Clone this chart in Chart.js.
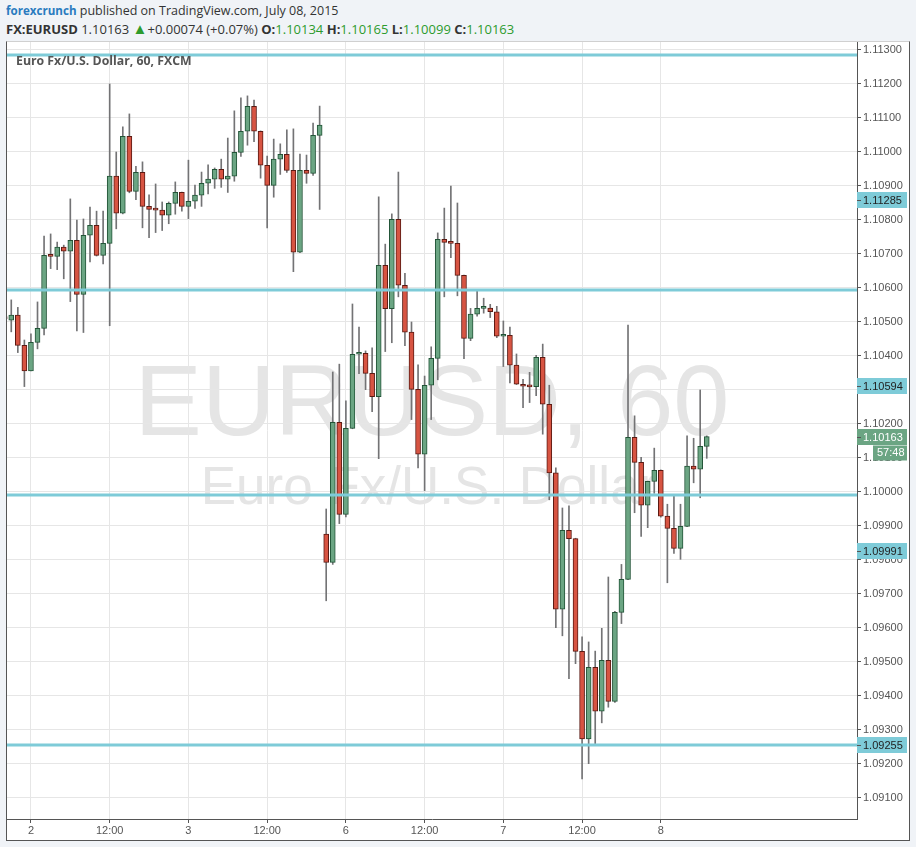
<!DOCTYPE html>
<html>
<head>
<meta charset="utf-8">
<script src="https://cdn.jsdelivr.net/npm/chart.js@4.4.1/dist/chart.umd.min.js"></script>
<style>
  html, body { margin: 0; padding: 0; }
  body { width: 916px; height: 847px; background: #f0f3f7; position: relative; overflow: hidden;
         font-family: "Open Sans", "Noto Sans", sans-serif; color: #333; }
  .line { position: absolute; left: 6px; font-size: 13px; white-space: nowrap; }
  #head1 { top: 2px; font-size: 12.5px; }
  #head1 b { color: #2a7bbf; font-size: 11.6px; }
  #head2 { top: 20px; }
  .g { color: #2d9b2d; }
  .tri { font-size: 15px; line-height: 13px; }
  #box { position: absolute; left: 6px; top: 41px; width: 902px; height: 798px; background: #fff;
         border: 1px solid #555; border-top-color: #d0d0d0; }
  canvas { display: block; }
</style>
</head>
<body>
<div class="line" id="head1"><b>forexcrunch</b> published on TradingView.com, July 08, 2015</div>
<div class="line" id="head2"><b>FX:EURUSD</b> 1.10163 <span class="g tri">&#9650;</span>+0.00074 (+0.07%) <b>O:</b><span class="g">1.10134</span> <b>H:</b><span class="g">1.10165</span> <b>L:</b><span class="g">1.10099</span> <b>C:</b><span class="g">1.10163</span></div>
<div id="box"><canvas id="chart" width="902" height="798"></canvas></div>
<script>
// hourly bars, FXCM session (weekend skipped)
const sessions = [
  ['Jul 1', 20, 23], ['Jul 2', 0, 23], ['Jul 3', 0, 20],
  ['Jul 5', 21, 23], ['Jul 6', 0, 23], ['Jul 7', 0, 23], ['Jul 8', 0, 7]
];
const times = [];
sessions.forEach(([d, a, b]) => {
  for (let h = a; h <= b; h++) times.push(d + ' ' + String(h).padStart(2, '0') + ':00');
});

const opens = [
  1.10512, 1.10505, 1.10520, 1.10431, 1.10356, 1.10440, 1.10481, 1.10696, 1.10693, 1.10720,
  1.10708, 1.10740, 1.10581, 1.10755, 1.10784, 1.10696, 1.10731, 1.10929, 1.10820, 1.11046,
  1.10884, 1.10940, 1.10840, 1.10831, 1.10829, 1.10814, 1.10849, 1.10881, 1.10840, 1.10855,
  1.10873, 1.10908, 1.10920, 1.10949, 1.10920, 1.10929, 1.10999, 1.11061, 1.11134, 1.11061,
  1.10961, 1.10902, 1.10979, 1.10993, 1.10946, 1.10705, 1.10946, 1.10937, 1.11049, 1.09876,
  1.09793, 1.10205, 1.09934, 1.10187, 1.10405, 1.10408, 1.10349, 1.10280, 1.10667, 1.10539,
  1.10802, 1.10608, 1.10470, 1.10302, 1.10111, 1.10314, 1.10393, 1.10743, 1.10734, 1.10731,
  1.10637, 1.10452, 1.10523, 1.10540, 1.10541, 1.10530, 1.10458, 1.10461, 1.10373, 1.10317,
  1.10311, 1.10310, 1.10396, 1.10258, 1.10056, 1.09655, 1.09887, 1.09863, 1.09531, 1.09274,
  1.09484, 1.09355, 1.09505, 1.09384, 1.09646, 1.09743, 1.10161, 1.10087, 1.09961, 1.10031,
  1.10064, 1.09929, 1.09893, 1.09834, 1.09899, 1.10076, 1.10067, 1.10134
];
const highs = [
  1.10520, 1.10565, 1.10543, 1.10447, 1.10465, 1.10559, 1.10753, 1.10759, 1.10735, 1.10726,
  1.10862, 1.10800, 1.10803, 1.10838, 1.10826, 1.10826, 1.11200, 1.11000, 1.11074, 1.11112,
  1.10958, 1.10971, 1.10874, 1.10906, 1.10853, 1.10853, 1.10912, 1.10882, 1.10976, 1.10903,
  1.10941, 1.10962, 1.10953, 1.10979, 1.11041, 1.11121, 1.11159, 1.11165, 1.11153, 1.11062,
  1.10988, 1.11038, 1.11024, 1.11065, 1.11068, 1.10994, 1.10991, 1.11085, 1.11135, 1.09950,
  1.10353, 1.10376, 1.10268, 1.10553, 1.10485, 1.10415, 1.10424, 1.10868, 1.10729, 1.10818,
  1.10941, 1.10643, 1.10500, 1.10374, 1.10341, 1.10427, 1.10762, 1.10835, 1.10900, 1.10850,
  1.10638, 1.10540, 1.10593, 1.10570, 1.10552, 1.10546, 1.10503, 1.10485, 1.10406, 1.10331,
  1.10352, 1.10402, 1.10435, 1.10314, 1.10071, 1.09953, 1.09959, 1.09864, 1.09574, 1.09559,
  1.09532, 1.09599, 1.09750, 1.09649, 1.09787, 1.10491, 1.10224, 1.10102, 1.10032, 1.10129,
  1.10065, 1.09964, 1.09990, 1.09964, 1.10165, 1.10158, 1.10300, 1.10165
];
const lows = [
  1.10500, 1.10471, 1.10410, 1.10310, 1.10356, 1.10421, 1.10462, 1.10657, 1.10654, 1.10627,
  1.10560, 1.10474, 1.10469, 1.10677, 1.10694, 1.10671, 1.10489, 1.10774, 1.10818, 1.10880,
  1.10860, 1.10777, 1.10748, 1.10763, 1.10769, 1.10789, 1.10817, 1.10826, 1.10804, 1.10834,
  1.10840, 1.10877, 1.10893, 1.10896, 1.10881, 1.10914, 1.10987, 1.11020, 1.11030, 1.10923,
  1.10777, 1.10867, 1.10934, 1.10940, 1.10648, 1.10704, 1.10908, 1.10931, 1.10831, 1.09680,
  1.09787, 1.09907, 1.09927, 1.10186, 1.10348, 1.10301, 1.10236, 1.10098, 1.10413, 1.10439,
  1.10574, 1.10430, 1.10213, 1.10071, 1.10004, 1.10213, 1.10330, 1.10574, 1.10689, 1.10577,
  1.10392, 1.10445, 1.10517, 1.10526, 1.10513, 1.10454, 1.10369, 1.10321, 1.10316, 1.10248,
  1.10263, 1.10283, 1.10170, 1.09977, 1.09601, 1.09577, 1.09451, 1.09495, 1.09156, 1.09201,
  1.09260, 1.09321, 1.09367, 1.09381, 1.09613, 1.09742, 1.09939, 1.09869, 1.09895, 1.09996,
  1.09926, 1.09733, 1.09819, 1.09802, 1.09898, 1.10027, 1.09983, 1.10099
];
const closes = [
  1.10510, 1.10520, 1.10431, 1.10356, 1.10440, 1.10481, 1.10696, 1.10693, 1.10720, 1.10708,
  1.10740, 1.10581, 1.10755, 1.10784, 1.10696, 1.10731, 1.10929, 1.10820, 1.11046, 1.10884,
  1.10940, 1.10840, 1.10831, 1.10829, 1.10814, 1.10849, 1.10881, 1.10840, 1.10855, 1.10873,
  1.10908, 1.10920, 1.10949, 1.10920, 1.10929, 1.10999, 1.11061, 1.11134, 1.11061, 1.10961,
  1.10902, 1.10979, 1.10993, 1.10946, 1.10705, 1.10946, 1.10937, 1.11049, 1.11079, 1.09793,
  1.10205, 1.09934, 1.10187, 1.10405, 1.10408, 1.10349, 1.10280, 1.10667, 1.10539, 1.10802,
  1.10608, 1.10470, 1.10302, 1.10111, 1.10314, 1.10393, 1.10743, 1.10734, 1.10731, 1.10637,
  1.10452, 1.10523, 1.10540, 1.10541, 1.10530, 1.10458, 1.10460, 1.10373, 1.10317, 1.10311,
  1.10309, 1.10396, 1.10258, 1.10056, 1.09655, 1.09887, 1.09863, 1.09531, 1.09274, 1.09484,
  1.09355, 1.09505, 1.09384, 1.09646, 1.09743, 1.10161, 1.10087, 1.09961, 1.10031, 1.10064,
  1.09929, 1.09893, 1.09834, 1.09899, 1.10076, 1.10067, 1.10134, 1.10163
];

// horizontal levels drawn on the chart, and where their price tags sit on the axis
const levels = [1.11285, 1.10594, 1.09991, 1.09255];
const levelTagAt = [1.10859, 1.10312, 1.09826, 1.09256];
const lastPrice = 1.10163;
const countdown = '57:48';

const yTicks = [];
for (let v = 1091; v <= 1113; v++) yTicks.push(v / 1000);
const xTickTimes = ['Jul 2 00:00', 'Jul 2 12:00', 'Jul 3 00:00', 'Jul 3 12:00', 'Jul 6 00:00',
                    'Jul 6 12:00', 'Jul 7 00:00', 'Jul 7 12:00', 'Jul 8 00:00'];
const xTickLabels = ['2', '12:00', '3', '12:00', '6', '12:00', '7', '12:00', '8'];
const xTickIdx = xTickTimes.map(t => times.indexOf(t));

const UP = '#6ba583', UP_BORDER = '#225437', DOWN = '#d75442', DOWN_BORDER = '#5b1a13';
const isUp = closes.map((c, i) => c >= opens[i]);

const AXIS_FONT = { family: '"Liberation Sans", Arial, sans-serif', size: 11 };

const watermark = {
  id: 'watermark',
  beforeDraw(chart) {
    const { ctx, chartArea: a } = chart;
    const cx = (a.left + a.right) / 2, cy = (a.top + a.bottom) / 2;
    ctx.save();
    ctx.fillStyle = '#e5e5e5';
    ctx.textAlign = 'center';
    ctx.textBaseline = 'alphabetic';
    ctx.font = '101px "Liberation Sans", Arial, sans-serif';
    ctx.fillText('EURUSD, 60', cx, cy + 4.5);
    ctx.font = '53px "Liberation Sans", Arial, sans-serif';
    ctx.fillText('Euro Fx/U.S. Dollar', cx - 3, cy + 73.5);
    ctx.restore();
  }
};

const levelLines = {
  id: 'levelLines',
  afterDatasetsDraw(chart) {
    const { ctx, chartArea: a, scales } = chart;
    ctx.save();
    ctx.fillStyle = '#7ecbd8';
    levels.forEach(v => {
      const y = Math.round(scales.y.getPixelForValue(v));
      ctx.fillRect(a.left, y - 1.5, a.right - a.left, 3);
    });
    ctx.font = 'bold 12.3px "Open Sans", sans-serif';
    ctx.fillStyle = '#555';
    ctx.textBaseline = 'alphabetic';
    ctx.fillText('Euro Fx/U.S. Dollar, 60, FXCM', a.left + 9, a.top + 22.5);
    ctx.restore();
  }
};

const priceTags = {
  id: 'priceTags',
  afterDraw(chart) {
    const { ctx, chartArea: a, scales } = chart;
    const tag = (text, v, bg, fg, x0) => {
      const y = Math.round(scales.y.getPixelForValue(v));
      ctx.fillStyle = bg;
      ctx.fillRect(x0, y - 8, a.right + 50 - x0, 16);
      ctx.fillStyle = '#555';
      ctx.fillRect(a.right, y, 4, 1);
      ctx.fillStyle = fg;
      ctx.fillText(text, x0 === a.right ? a.right + 6 : x0 + 4, y + 0.5);
    };
    ctx.save();
    ctx.font = '11px "Liberation Sans", Arial, sans-serif';
    ctx.textBaseline = 'middle';
    levels.forEach((v, i) => tag(v.toFixed(5), levelTagAt[i], '#7ecbd8', '#222', a.right));
    tag(lastPrice.toFixed(5), lastPrice, UP, '#fff', a.right);
    const cy = scales.y.getPixelForValue(lastPrice) + 16.5;
    ctx.fillStyle = UP;
    ctx.fillRect(a.right + 16, Math.round(cy) - 7.5, 34, 15);
    ctx.fillStyle = '#fff';
    ctx.fillText(countdown, a.right + 20, Math.round(cy));
    ctx.restore();
  }
};

new Chart(document.getElementById('chart').getContext('2d'), {
  type: 'bar',
  data: {
    datasets: [
      {
        label: 'wick',
        data: times.map((t, i) => ({ x: i, y: [lows[i], highs[i]] })),
        backgroundColor: '#737375',
        borderWidth: 0,
        barThickness: 1,
        grouped: false,
        order: 2
      },
      {
        label: 'body',
        data: times.map((t, i) => ({ x: i, y: [opens[i], closes[i]] })),
        backgroundColor: isUp.map(u => u ? UP : DOWN),
        borderColor: isUp.map(u => u ? UP_BORDER : DOWN_BORDER),
        borderWidth: 1,
        borderSkipped: false,
        barThickness: 5,
        minBarLength: 2,
        grouped: false,
        order: 1
      }
    ]
  },
  options: {
    responsive: false,
    animation: false,
    layout: { padding: 0 },
    plugins: { legend: { display: false }, tooltip: { enabled: false } },
    scales: {
      x: {
        type: 'linear',
        bounds: 'data',
        min: 0.35,
        max: 129.9,
        offset: false,
        grid: { offset: false, color: '#e6e6e6', tickColor: '#555', tickLength: 4 },
        border: { color: '#555' },
        ticks: {
          autoSkip: false, maxRotation: 0, padding: 1, color: '#555', font: AXIS_FONT,
          callback: (v, i) => xTickLabels[i]
        },
        afterBuildTicks: s => { s.ticks = xTickIdx.map(v => ({ value: v })); },
        afterFit: s => { s.height = 21; s.paddingLeft = 0; s.paddingRight = 0; }
      },
      y: {
        type: 'linear',
        position: 'right',
        bounds: 'data',
        beginAtZero: false,
        min: 1.090382,
        max: 1.113235,
        grid: { color: '#e6e6e6', tickColor: '#555', tickLength: 4 },
        border: { color: '#555' },
        ticks: {
          autoSkip: false, padding: 2, color: '#555', font: AXIS_FONT,
          callback: v => v.toFixed(5)
        },
        afterBuildTicks: s => { s.ticks = yTicks.map(v => ({ value: v })); },
        afterFit: s => { s.width = 52; s.paddingTop = 0; s.paddingBottom = 0; }
      }
    }
  },
  plugins: [watermark, levelLines, priceTags]
});
</script>
</body>
</html>
